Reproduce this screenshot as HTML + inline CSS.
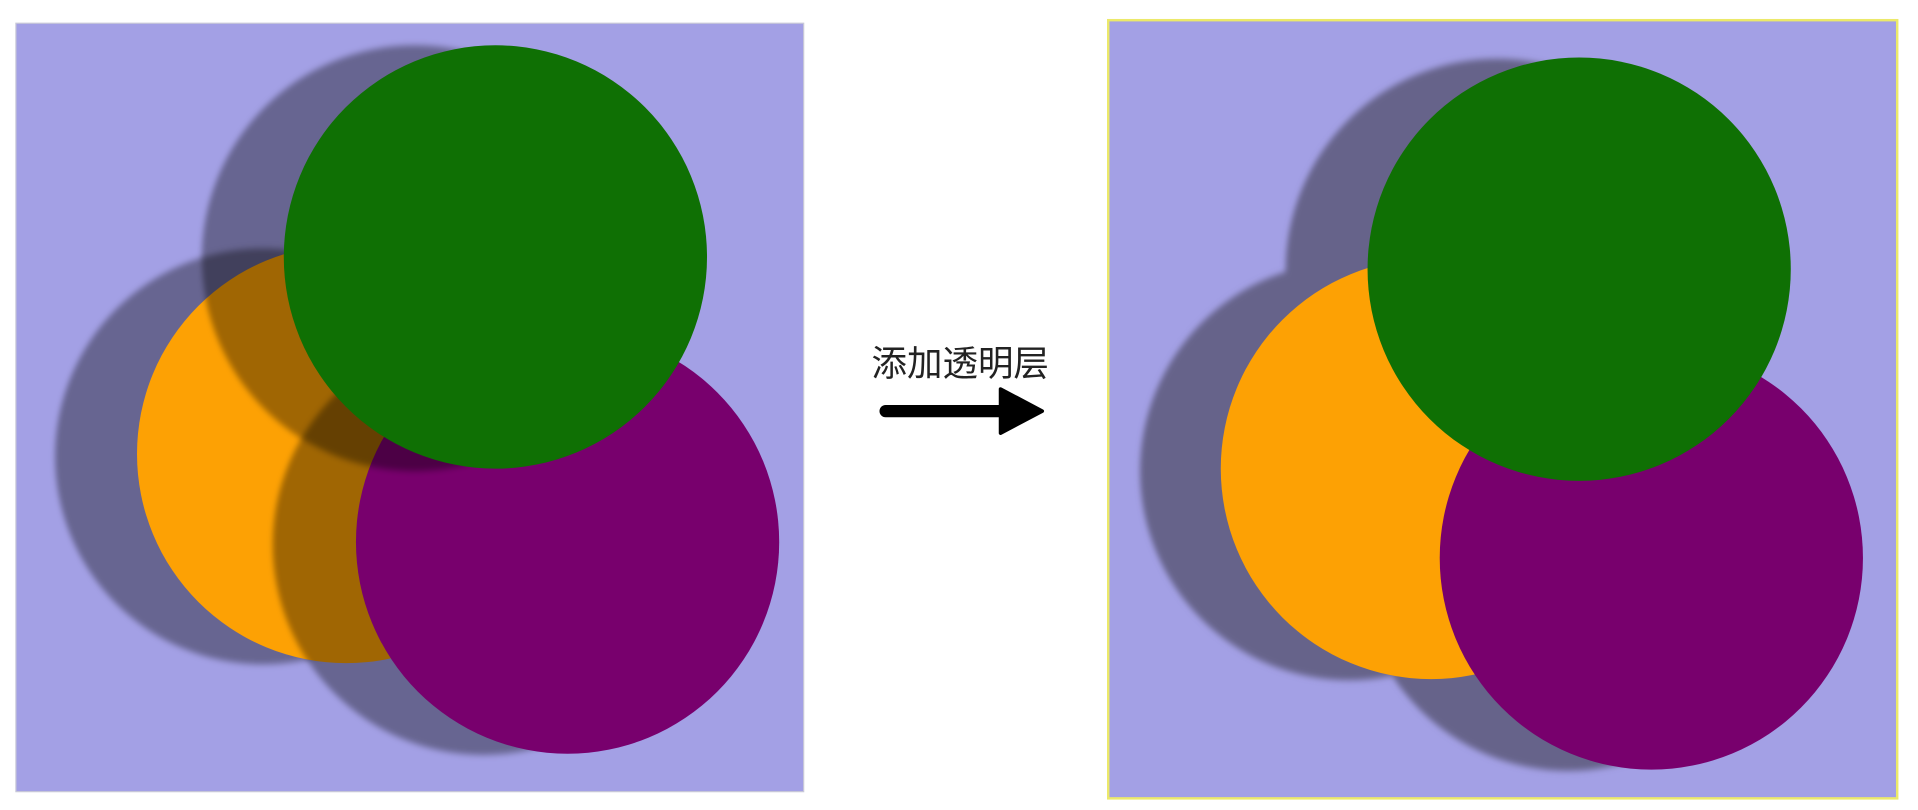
<!DOCTYPE html>
<html><head><meta charset="utf-8"><style>
html,body{margin:0;padding:0;background:#fff;width:1918px;height:810px;overflow:hidden}
</style></head><body>
<svg width="1918" height="810" viewBox="0 0 1568 662" preserveAspectRatio="none">
<defs><filter id="b" x="-20%" y="-20%" width="140%" height="140%"><feGaussianBlur stdDeviation="2.5"/></filter></defs>
<g>
<rect x="13" y="19" width="644" height="628" fill="#a3a0e5" stroke="#c8c8d8" stroke-width="1"/>
<circle cx="215" cy="373" r="170" fill="#000" fill-opacity="0.37" filter="url(#b)"/>
<circle cx="283" cy="371" r="171" fill="#fda104"/>
<circle cx="395" cy="445" r="172" fill="#000" fill-opacity="0.37" filter="url(#b)"/>
<circle cx="464" cy="443" r="173" fill="#78006d"/>
<circle cx="339" cy="211" r="174" fill="#000" fill-opacity="0.37" filter="url(#b)"/>
<circle cx="405" cy="210" r="173" fill="#0f7004"/>
</g>
<g>
<text x="785" y="307" text-anchor="middle" font-family="'Liberation Sans','Noto Sans CJK SC',sans-serif" font-size="29" fill="#222">添加透明层</text>
<line x1="724" y1="336" x2="824" y2="336" stroke="#000" stroke-width="10" stroke-linecap="round"/>
<polygon points="818,318 852,336 818,354" fill="#000" stroke="#000" stroke-width="3" stroke-linejoin="round"/>
</g>
<g>
<rect x="906" y="16.5" width="645" height="636" fill="#a3a0e5" stroke="#ece96a" stroke-width="2"/>
<g fill="#66648a" filter="url(#b)">
<circle cx="1103" cy="385" r="171"/>
<circle cx="1282" cy="458" r="172"/>
<circle cx="1224" cy="221" r="173"/>
</g>
<circle cx="1170" cy="383" r="172" fill="#fda104"/>
<circle cx="1350" cy="456" r="173" fill="#78006d"/>
<circle cx="1291" cy="220" r="173" fill="#0f7004"/>
</g>
</svg>
</body></html>
